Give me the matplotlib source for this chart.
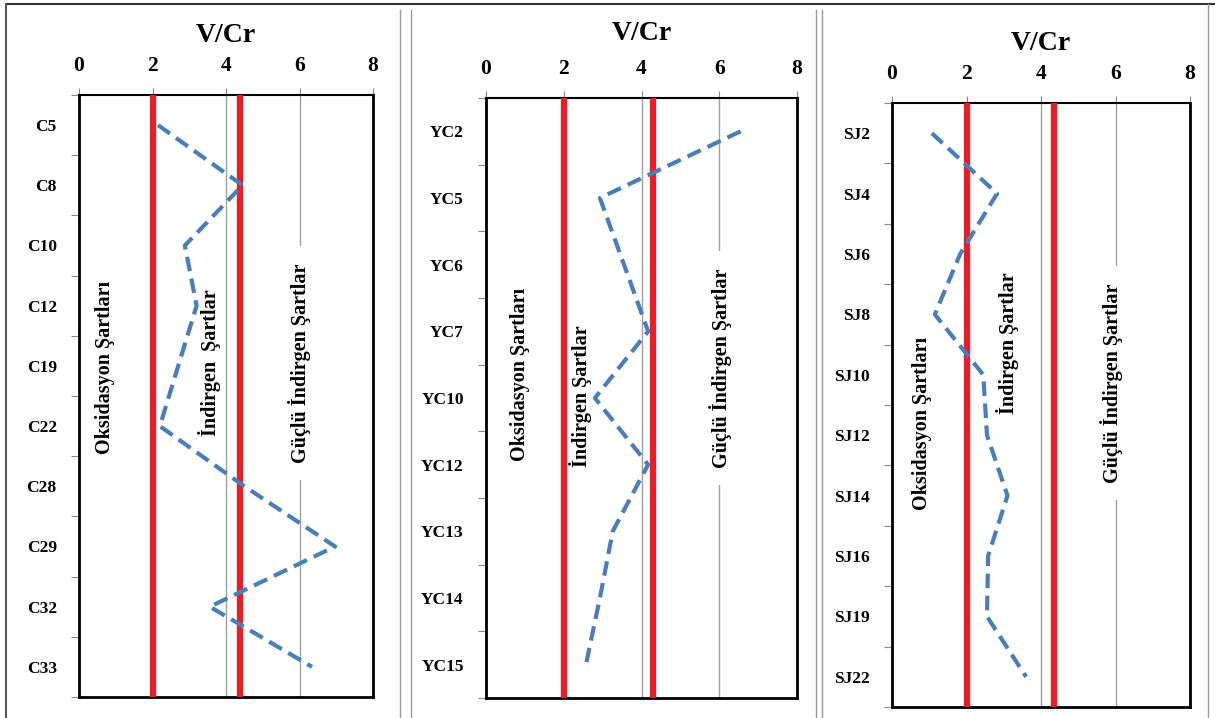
import matplotlib
matplotlib.use("Agg")
import matplotlib.pyplot as plt
from matplotlib.lines import Line2D

plt.rcParams['font.family'] = ['Liberation Serif', 'DejaVu Serif']
plt.rcParams['font.weight'] = 'bold'

# data
c_labels = ["C5", "C8", "C10", "C12", "C19", "C22", "C28", "C29", "C32", "C33"]
c_vals = [2.15, 4.45, 2.88, 3.2, 2.7, 2.2, 4.5, 6.97, 3.56, 6.34]

yc_labels = ["YC2", "YC5", "YC6", "YC7", "YC10", "YC12", "YC13", "YC14", "YC15"]
yc_vals = [6.55, 2.93, 3.55, 4.17, 2.8, 4.17, 3.26, 2.93, 2.57]

sj_labels = ["SJ2", "SJ4", "SJ6", "SJ8", "SJ10", "SJ12", "SJ14", "SJ16", "SJ19", "SJ22"]
sj_vals = [1.07, 2.82, 1.83, 1.15, 2.45, 2.55, 3.1, 2.58, 2.55, 3.6]

# limits between conditions
ox_limit = 2.0
red_limit = [4.38, 4.3, 4.34]

xticks = [0, 2, 4, 6, 8]

W, H = 1215, 718
fig = plt.figure(figsize=(W / 100, H / 100), dpi=100)


def px_axes(left, right, top, bottom):
    return fig.add_axes([left / W, 1 - bottom / H, (right - left) / W, (bottom - top) / H])


panels = [
    (c_labels, c_vals, (79, 373, 95, 697), 42,
     [(0.7, 4.03, "Oksidasyon Şartları"), (3.56, 3.95, "İndirgen  Şartlar"),
      (6.0, 3.95, "Güçlü İndirgen Şartlar")]),
    (yc_labels, yc_vals, (486, 797, 98, 698), 40,
     [(0.87, 3.65, "Oksidasyon Şartları"), (2.44, 3.98, "İndirgen Şartlar"),
      (6.02, 3.55, "Güçlü İndirgen Şartlar")]),
    (sj_labels, sj_vals, (892, 1190, 103, 707), 50,
     [(0.8, 4.8, "Oksidasyon Şartları"), (3.11, 3.47, "İndirgen Şartlar"),
      (5.9, 4.14, "Güçlü İndirgen Şartlar")]),
]

for i, (labels, vals, box, title_y, notes) in enumerate(panels):
    ax = px_axes(*box)
    n = len(labels)
    pos = list(range(n))
    ax.set_xlim(0, 8)
    ax.set_ylim(n - 0.5, -0.5)

    ax.grid(axis='x', color='#a0a0a0', lw=1.0, zorder=0)
    ax.axvline(ox_limit, color='#ed1c24', lw=4.5, zorder=3, solid_capstyle='round')
    ax.axvline(red_limit[i], color='#ed1c24', lw=4.5, zorder=3, solid_capstyle='round')
    ax.plot(vals, pos, color='#4a7ebb', lw=3, ls=(0, (3.5, 1.8)), zorder=4)

    ax.xaxis.tick_top()
    ax.set_xticks(xticks)
    ax.set_xticklabels([str(t) for t in xticks], fontsize=15.5, fontweight='bold')
    ax.tick_params(axis='x', length=5, color='#888888', pad=9)

    ax.set_yticks([p - 0.5 for p in pos] + [n - 0.5])
    ax.set_yticklabels([])
    ax.set_yticks(pos, minor=True)
    ax.set_yticklabels(labels, minor=True, fontsize=12.5, fontweight='bold')
    ax.tick_params(axis='y', which='major', length=6, color='#888888')
    ax.tick_params(axis='y', which='minor', length=0, pad=16)

    for s in ax.spines.values():
        s.set_color('black')
        s.set_linewidth(2)
    ax.spines['top'].set_linewidth(1.5)

    for x, y, t in notes:
        kw = {}
        if t.startswith("Güçlü"):
            kw['bbox'] = dict(boxstyle='square,pad=0.85', fc='white', ec='none')
        ax.text(x, y, t, rotation=90, ha='center', va='center', fontsize=14.5,
                fontweight='bold', zorder=5, **kw)

    cx = (box[0] + box[1]) / 2 / W
    fig.text(cx, 1 - title_y / H, "V/Cr", ha='center', va='baseline', fontsize=20,
             fontweight='bold')

# page frame and separators
def fline(x0, y0, x1, y1, color, lw):
    fig.add_artist(Line2D([x0 / W, x1 / W], [1 - y0 / H, 1 - y1 / H], color=color, lw=lw))

fline(6, 4, 1215, 4, '#333333', 1.5)
fline(6, 4, 6, 718, '#555555', 1.5)
fline(1208, 4, 1208, 718, '#999999', 1.0)
for x in (400, 411, 816, 822):
    fline(x, 10, x, 718, '#999999', 1.0)

fig.savefig("out.png", dpi=100)
